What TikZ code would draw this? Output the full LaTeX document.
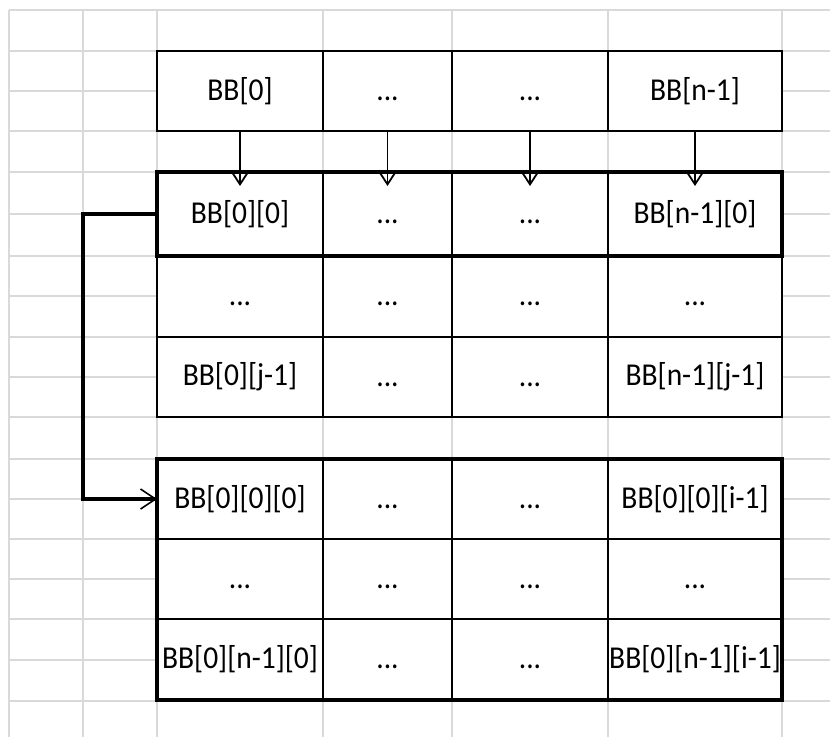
\documentclass[tikz,border=0pt]{standalone}
\usepackage{fontspec}
\setmainfont{Carlito}
\usetikzlibrary{arrows.meta}
\definecolor{gridgray}{HTML}{D9D9D9}
\tikzset{
  cell/.style={draw=black, line width=2pt, fill=white, inner sep=0pt, outer sep=0pt,
    font=\fontsize{29.5}{31}\selectfont},
  thickbox/.style={draw=black, line width=4pt},
  arr/.style={line width=1.8pt, -{Straight Barb[length=13pt,width=17pt]}},
  link/.style={line width=4pt, line join=miter,
    -{Straight Barb[length=15pt,width=20pt,line width=1.6pt]}},
  gridline/.style={draw=gridgray, line width=1.5pt},
}
\newcommand\tx[1]{\scalebox{1}[1.08]{\vphantom{[]}#1}}
\newcommand\mycell[6]{\node[cell, minimum width={(#3-#2)*1pt}, minimum height={(#5-#4)*1pt}] (#1) at ({(#2+#3)/2},{(#4+#5)/2}) {\tx{#6}};}
\begin{document}
\begin{tikzpicture}[x=1pt,y=-1pt]
\useasboundingbox (0,0) rectangle (830,737);
\fill[white] (0,0) rectangle (830,737);
% spreadsheet grid
\foreach \x in {9,83,157,323,452,608,782}
  \draw[gridline] (\x,10) -- (\x,737);
\foreach \y in {10,51,91,131,172,214,256,296,337,377,417,459,499,539,579,619,660,701}
  \draw[gridline] (9,\y) -- (830,\y);
% table 1
\mycell{a1}{157}{323}{51}{131}{BB[0]}
\mycell{a2}{323}{452}{51}{131}{...}
\mycell{a3}{452}{608}{51}{131}{...}
\mycell{a4}{608}{782}{51}{131}{BB[n-1]}
% table 2
\mycell{b11}{157}{323}{172}{256}{BB[0][0]}
\mycell{b12}{323}{452}{172}{256}{...}
\mycell{b13}{452}{608}{172}{256}{...}
\mycell{b14}{608}{782}{172}{256}{BB[n-1][0]}
\mycell{b21}{157}{323}{256}{337}{...}
\mycell{b22}{323}{452}{256}{337}{...}
\mycell{b23}{452}{608}{256}{337}{...}
\mycell{b24}{608}{782}{256}{337}{...}
\mycell{b31}{157}{323}{337}{417}{BB[0][j-1]}
\mycell{b32}{323}{452}{337}{417}{...}
\mycell{b33}{452}{608}{337}{417}{...}
\mycell{b34}{608}{782}{337}{417}{BB[n-1][j-1]}
\draw[thickbox] (b11.north west) rectangle (b14.south east);
% table 3
\mycell{c11}{157}{323}{459}{539}{BB[0][0][0]}
\mycell{c12}{323}{452}{459}{539}{...}
\mycell{c13}{452}{608}{459}{539}{...}
\mycell{c14}{608}{782}{459}{539}{BB[0][0][i-1]}
\mycell{c21}{157}{323}{539}{619}{...}
\mycell{c22}{323}{452}{539}{619}{...}
\mycell{c23}{452}{608}{539}{619}{...}
\mycell{c24}{608}{782}{539}{619}{...}
\mycell{c31}{157}{323}{619}{700}{BB[0][n-1][0]}
\mycell{c32}{323}{452}{619}{700}{...}
\mycell{c33}{452}{608}{619}{700}{...}
\mycell{c34}{608}{782}{619}{700}{BB[0][n-1][i-1]}
\draw[thickbox] (c11.north west) rectangle (c34.south east);
% arrows
\draw[arr] (a1.south) -- ([yshift=-14pt]b11.north);
\draw[arr] (a2.south) -- ([yshift=-14pt]b12.north);
\draw[arr] (a3.south) -- ([yshift=-14pt]b13.north);
\draw[arr] (a4.south) -- ([yshift=-14pt]b14.north);
\coordinate (bend) at (83,214);
\draw[link] (b11.west) -- (bend) |- (c11.west);
\end{tikzpicture}
\end{document}
